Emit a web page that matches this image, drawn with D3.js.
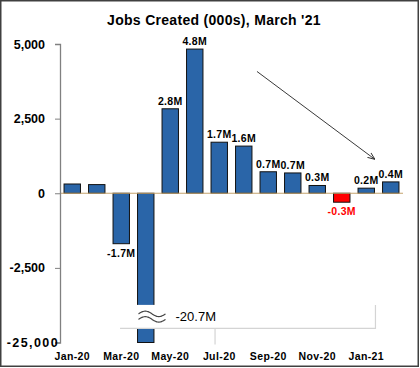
<!DOCTYPE html>
<html>
<head>
<meta charset="utf-8">
<script src="https://cdn.jsdelivr.net/npm/d3@7"></script>
<style>
  body { margin: 0; background: #fff; }
  svg text { font-family: "Liberation Sans", Arial, sans-serif; }
</style>
</head>
<body>
<div id="chart"></div>
<script>
  var
    width = 420,
    height = 368;

  // data (000s)
  var months = ['Jan-20', 'Feb-20', 'Mar-20', 'Apr-20', 'May-20', 'Jun-20', 'Jul-20',
                'Aug-20', 'Sep-20', 'Oct-20', 'Nov-20', 'Dec-20', 'Jan-21', 'Feb-21'];
  var jobs = [310, 290, -1690, -20679, 2830, 4830, 1710, 1580, 720, 680, 260, -300, 170, 380];
  var barLabels = ['', '', '-1.7M', '', '2.8M', '4.8M', '1.7M', '1.6M', '0.7M', '0.7M', '0.3M', '-0.3M', '0.2M', '0.4M'];
  var brokenLabel = '-20.7M';
  var xTickMonths = ['Jan-20', 'Mar-20', 'May-20', 'Jul-20', 'Sep-20', 'Nov-20', 'Jan-21'];
  var yTickValues = [-5000, -2500, 0, 2500, 5000];
  var yTickLabels = ['-25,000', '-2,500', '0', '2,500', '5,000'];

  var svg = d3.select('#chart').append('svg')
    .attr('width', width)
    .attr('height', height);

  svg.append('rect')
    .attr('width', width).attr('height', height)
    .attr('fill', '#fff');

  var x = d3.scaleBand()
    .domain(months)
    .range([60, 403])
    .paddingInner(0.33)
    .paddingOuter(0.165);

  var y = d3.scaleLinear()
    .domain([-5000, 5000])
    .range([342.5, 44])
    .clamp(true);

  // title
  svg.append('text')
    .attr('x', 214)
    .attr('y', 25)
    .attr('text-anchor', 'middle')
    .style('font-size', '14px')
    .style('font-weight', 'bold')
    .style('letter-spacing', '0.3px')
    .text("Jobs Created (000s), March '21");

  // bars
  svg.append('g')
    .selectAll('rect')
    .data(jobs)
    .enter().append('rect')
    .attr('x', function(d, i) { return x(months[i]); })
    .attr('width', x.bandwidth())
    .attr('y', function(d) { return d >= 0 ? y(d) : y(0); })
    .attr('height', function(d) { return Math.abs(y(d) - y(0)); })
    .attr('fill', function(d, i) { return months[i] === 'Dec-20' ? '#ff0000' : '#2a65a8'; })
    .attr('stroke', '#111')
    .attr('stroke-width', 1);

  // zero line
  svg.append('line')
    .attr('x1', 60).attr('x2', 403)
    .attr('y1', y(0)).attr('y2', y(0))
    .attr('stroke', '#c4a36e')
    .attr('stroke-width', 1.2);

  // y axis
  var yAxis = d3.axisLeft(y)
    .tickValues(yTickValues)
    .tickSize(5)
    .tickFormat(function(d, i) { return yTickLabels[i]; });

  var yG = svg.append('g')
    .attr('transform', 'translate(60,0)')
    .call(yAxis);
  yG.select('.domain').attr('stroke', '#808080').attr('stroke-width', 1.3);
  yG.selectAll('.tick line').attr('stroke', '#808080');
  yG.selectAll('.tick text')
    .attr('x', -15)
    .style('font-size', '12.5px')
    .style('font-weight', 'bold')
    .style('font-family', '"Liberation Sans", Arial, sans-serif')
    .attr('fill', '#000');
  yG.selectAll('.tick').filter(function(d) { return d === -5000; })
    .select('text')
    .attr('x', -1)
    .style('letter-spacing', '1.4px');

  // x labels
  svg.append('g')
    .selectAll('text')
    .data(xTickMonths)
    .enter().append('text')
    .attr('x', function(d) { return x(d) + x.bandwidth() / 2; })
    .attr('y', 360)
    .attr('text-anchor', 'middle')
    .style('font-size', '10.5px')
    .style('font-weight', 'bold')
    .style('letter-spacing', '0.4px')
    .text(function(d) { return d; });

  // axis break box
  var breakTop = y(-3740), breakBottom = y(-4530);
  var breakLeft = x('Mar-20') + 7,
      breakRight = x('Jan-21') + x.bandwidth() + 1,
      breakStem = x('Jul-20') + 4;

  svg.append('rect')
    .attr('x', breakLeft)
    .attr('y', breakTop)
    .attr('width', breakRight - breakLeft)
    .attr('height', breakBottom - breakTop)
    .attr('fill', '#fff');

  svg.append('path')
    .attr('d', 'M' + breakLeft + ',' + breakBottom + 'H' + breakRight + 'V' + breakTop +
               'M' + breakStem + ',' + breakBottom + 'V' + (breakBottom + 16))
    .attr('fill', 'none')
    .attr('stroke', '#d4d4d4')
    .attr('stroke-width', 1.2);

  // wavy break symbol
  var waveX0 = x('Apr-20') + 1, waveW = 27;
  [breakTop + 9, breakTop + 14.5].forEach(function(wy) {
    var pts = d3.range(0, 1.001, 0.05).map(function(t) {
      return [waveX0 + t * waveW, wy - 2.8 * Math.sin(t * Math.PI * 2)];
    });
    svg.append('path')
      .attr('d', d3.line().curve(d3.curveBasis)(pts))
      .attr('fill', 'none')
      .attr('stroke', '#444')
      .attr('stroke-width', 1.2);
  });

  svg.append('text')
    .attr('x', waveX0 + waveW + 10)
    .attr('y', breakTop + 16)
    .style('font-size', '13px')
    .text(brokenLabel);

  // bar labels
  svg.append('g')
    .selectAll('text')
    .data(jobs)
    .enter().append('text')
    .attr('x', function(d, i) { return x(months[i]) + x.bandwidth() / 2; })
    .attr('y', function(d) { return d >= 0 ? y(d) - 4 : y(d) + 13; })
    .attr('text-anchor', 'middle')
    .attr('fill', function(d, i) { return months[i] === 'Dec-20' ? '#ff0000' : '#000'; })
    .style('font-size', '10.5px')
    .style('font-weight', 'bold')
    .style('letter-spacing', '0.3px')
    .text(function(d, i) { return barLabels[i]; });

  // trend arrow, in data units (band index, value)
  var arrowFrom = [7.54, 4080], arrowTo = [12.33, 1150];
  var step = x.step(), x0 = x(months[0]) + x.bandwidth() / 2;

  svg.append('defs').append('marker')
    .attr('id', 'head')
    .attr('viewBox', '0 0 10 10')
    .attr('refX', 9).attr('refY', 5)
    .attr('markerWidth', 8).attr('markerHeight', 8)
    .attr('orient', 'auto')
    .append('path')
    .attr('d', 'M0,1L10,5L0,9')
    .attr('fill', 'none')
    .attr('stroke', '#222')
    .attr('stroke-width', 1.2);

  svg.append('line')
    .attr('x1', x0 + arrowFrom[0] * step).attr('y1', y(arrowFrom[1]))
    .attr('x2', x0 + arrowTo[0] * step).attr('y2', y(arrowTo[1]))
    .attr('stroke', '#222')
    .attr('stroke-width', 0.9)
    .attr('marker-end', 'url(#head)');

  // frame
  svg.append('rect')
    .attr('x', 0.75).attr('y', 0.75)
    .attr('width', width - 2.5).attr('height', height - 2.5)
    .attr('fill', 'none')
    .attr('stroke', '#404040')
    .attr('stroke-width', 1.5);
</script>
</body>
</html>
